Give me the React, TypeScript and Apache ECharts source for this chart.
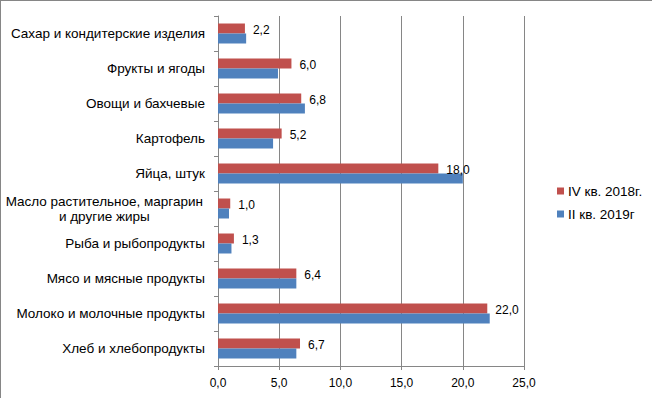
import React, { useEffect, useRef } from "react";
import * as echarts from "echarts";

const categories = [
  "Хлеб и хлебопродукты",
  "Молоко и молочные продукты",
  "Мясо и мясные продукты",
  "Рыба и рыбопродукты",
  "Масло растительное, маргарин\nи другие жиры",
  "Яйца, штук",
  "Картофель",
  "Овощи и бахчевые",
  "Фрукты и ягоды",
  "Сахар и кондитерские изделия",
];
const seriesQ4_2018 = [6.7, 22.0, 6.4, 1.3, 1.0, 18.0, 5.2, 6.8, 6.0, 2.2];
const seriesQ2_2019 = [6.4, 22.2, 6.4, 1.1, 0.9, 20.0, 4.5, 7.1, 4.9, 2.3];
const nameQ4 = "IV кв. 2018г.";
const nameQ2 = "II кв. 2019г";
const xTicks = { min: 0, max: 25, interval: 5 };

const FONT = "Liberation Sans";
const CAT_SIZE = 13.5;

const fmt = (v: number) => v.toFixed(1).replace(".", ",");

function measure(text: string, size: number) {
  const c = document.createElement("canvas").getContext("2d")!;
  c.font = `${size}px "${FONT}"`;
  return Math.max(...text.split("\n").map((t) => c.measureText(t).width));
}

export default function App() {
  const ref = useRef<HTMLDivElement>(null);
  useEffect(() => {
    document.body.style.margin = "0";
    const chart = echarts.init(ref.current!, null, { renderer: "svg" });
    const yData = categories.map((c) => {
      if (c.indexOf("\n") >= 0) {
        const w = measure(c, CAT_SIZE);
        return {
          value: c,
          textStyle: { align: "center", padding: [0, w + 4, 0, 0], lineHeight: 15 },
        };
      }
      return c;
    });
    chart.setOption({
      animation: false,
      textStyle: { fontFamily: FONT },
      grid: { left: 217, right: 128, top: 15, bottom: 32, containLabel: false },
      legend: {
        orient: "vertical",
        left: 551,
        top: 178,
        itemWidth: 7,
        itemHeight: 7,
        itemGap: 9,
        icon: "rect",
        data: [nameQ4, nameQ2],
        textStyle: { fontSize: 13.5, color: "#000", fontFamily: FONT, padding: [0, 0, 0, -1] },
      },
      xAxis: {
        type: "value",
        min: xTicks.min,
        max: xTicks.max,
        interval: xTicks.interval,
        axisLine: { show: true, lineStyle: { color: "#868686" } },
        axisTick: { show: true, length: 4, lineStyle: { color: "#868686" } },
        splitLine: { show: true, lineStyle: { color: "#868686" } },
        axisLabel: {
          formatter: (v: number) => fmt(v),
          fontSize: 12,
          color: "#000",
          margin: 11,
        },
      },
      yAxis: {
        type: "category",
        data: yData,
        axisLine: { show: true, lineStyle: { color: "#868686" } },
        axisTick: { show: true, length: 4, lineStyle: { color: "#868686" } },
        axisLabel: {
          fontSize: CAT_SIZE,
          color: "#000",
          margin: 13,
          interval: 0,
        },
      },
      series: [
        {
          name: nameQ4,
          type: "bar",
          data: seriesQ4_2018,
          barWidth: 10,
          barGap: "0%",
          itemStyle: { color: "#C0504D" },
          label: {
            show: true,
            position: "right",
            distance: 8,
            offset: [0, 1],
            fontSize: 12,
            color: "#000",
            formatter: (p: any) => fmt(p.value),
          },
        },
        {
          name: nameQ2,
          type: "bar",
          data: seriesQ2_2019,
          barWidth: 10,
          barGap: "0%",
          itemStyle: { color: "#4F81BD" },
        },
      ],
    });
    return () => chart.dispose();
  }, []);
  return (
    <div
      ref={ref}
      style={{
        width: 652,
        height: 398,
        boxSizing: "border-box",
        borderTop: "1px solid #868686",
        borderLeft: "1px solid #868686",
      }}
    />
  );
}
